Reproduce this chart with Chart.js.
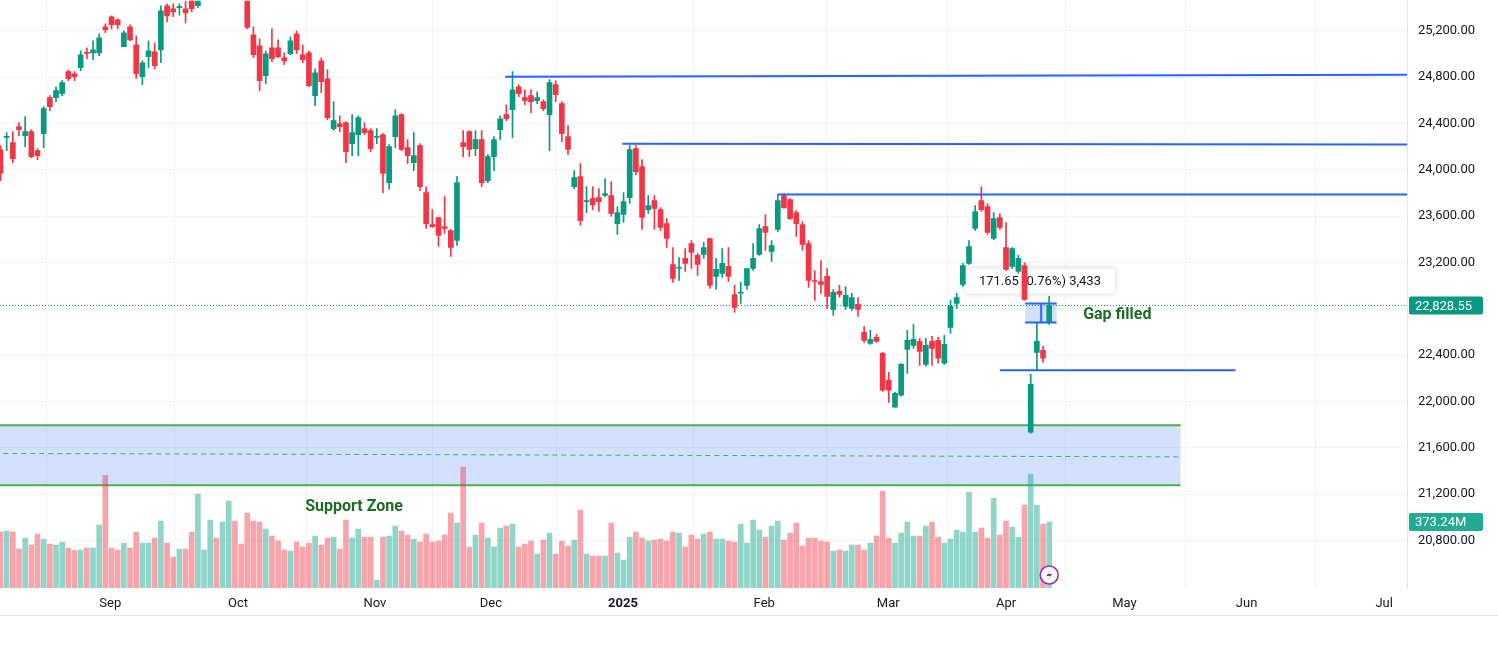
<!DOCTYPE html>
<html>
<head>
<meta charset="utf-8">
<script src="https://cdn.jsdelivr.net/npm/chart.js@4.4.1/dist/chart.umd.min.js"></script>
<style>
  html, body { margin: 0; padding: 0; background: #fff; overflow: hidden; }
  #wrap { position: relative; top: -18px; width: 1498px; height: 669px; }
</style>
</head>
<body>
<div id="wrap"><canvas id="priceChart"></canvas></div>
<script>
// Daily candles, Aug 2024 - Apr 2025 (index = trading day)
const opens = [24175,24280,24235,24373,24295,24330,24166,24312,24623,24623,24657,24847,24829,24881,25015,25010,25010,25234,25321,25295,
  25062,25234,25079,24804,24976,25019,25036,25416,25390,25400,25390,25480,25416,25600,25870,25970,25920,26005,26250,26060,
  25800,25166,25071,24812,25054,25054,24967,25002,25174,24993,25010,24640,24941,24786,24355,24398,24407,24226,24304,24355,
  24338,24280,24304,23890,24286,24476,24192,24062,24209,23803,23528,23588,23510,23476,23390,24235,24330,24183,24260,23907,
  24114,24347,24476,24519,24717,24623,24640,24597,24588,24476,24735,24571,24286,23855,23942,23725,23752,23760,23778,23778,
  23536,23614,23760,24183,24028,23657,23735,23657,23536,23183,23150,23235,23364,23261,23269,23407,23080,23105,23166,22924,
  22936,23002,23148,23269,23510,23295,23485,23778,23743,23631,23528,23364,23040,23036,23080,22795,22950,22821,22804,22838,
  22597,22502,22554,22416,22183,21950,22054,22450,22485,22519,22321,22519,22528,22330,22640,22847,23010,23192,23493,23735,
  23683,23407,23588,23329,23166,23123,23174,21735,22424,22442,22690];
const highs = [24209,24321,24330,24407,24459,24347,24183,24545,24640,24717,24770,24864,24847,25028,25054,25114,25174,25260,25330,25304,
  25200,25252,25157,24941,25114,25097,25416,25433,25433,25433,25459,25520,25650,25850,25980,26010,26030,26250,26277,26130,
  25820,25234,25131,25028,25217,25122,25010,25148,25200,25079,25028,24872,24967,24864,24588,24467,24416,24476,24467,24407,
  24355,24355,24312,24217,24519,24485,24260,24321,24226,23855,23657,23588,23769,23485,23942,24338,24338,24338,24338,24131,
  24286,24467,24562,24847,24735,24691,24691,24674,24605,24778,24769,24588,24381,23993,24054,23855,23855,23838,23924,23898,
  23683,23803,24209,24209,24088,23778,23778,23674,23579,23329,23243,23321,23390,23278,23373,23407,23235,23321,23329,23002,
  23028,23148,23364,23528,23614,23390,23786,23795,23752,23649,23554,23390,23131,23217,23148,22967,23002,22993,22933,22898,
  22649,22614,22580,22424,22252,22080,22330,22614,22666,22545,22545,22562,22554,22571,22873,22933,23192,23390,23692,23855,
  23709,23631,23623,23545,23329,23261,23200,22235,22683,22476,22907];
const lows = [23907,24166,24062,24295,24200,24105,24088,24192,24510,24588,24640,24769,24769,24855,24959,24950,24985,25183,25217,25217,
  25062,25114,24786,24735,24881,24872,24924,25278,25321,25338,25269,25364,25400,25550,25820,25880,25870,25980,26150,25790,
  25217,24967,24683,24743,24933,24967,24907,24993,25002,24924,24717,24554,24666,24433,24340,24330,24062,24123,24123,24304,
  24157,24226,23803,23830,24192,24166,24054,23993,23821,23493,23502,23338,23450,23252,23347,24114,24114,24123,23855,23890,
  23993,24260,24424,24278,24631,24562,24493,24571,24510,24166,24588,24243,24131,23838,23519,23631,23657,23640,23769,23597,
  23442,23545,23709,23959,23485,23623,23485,23476,23329,23028,23045,23123,23148,23088,23235,22976,22967,23071,23036,22769,
  22847,22967,23131,23261,23304,23209,23467,23666,23571,23424,23304,22985,22873,22933,22804,22743,22898,22795,22786,22735,
  22510,22493,22510,22088,21993,21950,22045,22243,22459,22312,22304,22312,22330,22321,22589,22804,22993,23183,23476,23640,
  23442,23398,23485,23131,23148,23105,22873,21726,22269,22338,22666];
const closes = [23968,24290,24097,24347,24330,24114,24123,24528,24545,24683,24752,24786,24804,24993,25005,25036,25140,25209,25252,25252,
  25183,25122,24829,24924,25028,24898,25372,25329,25364,25408,25355,25390,25600,25790,25939,25940,26004,26216,26178,25811,
  25230,24993,24769,25002,24959,24976,24941,25114,25036,24950,24726,24838,24760,24450,24424,24373,24157,24321,24450,24321,
  24183,24290,23968,24200,24467,24175,24123,24123,23855,23536,23510,23433,23493,23329,23890,24200,24175,24260,23890,24114,
  24260,24441,24441,24691,24657,24597,24588,24623,24528,24752,24649,24312,24175,23933,23562,23730,23700,23726,23795,23623,
  23631,23726,24175,23985,23588,23692,23666,23502,23407,23062,23155,23192,23286,23183,23329,23002,23140,23192,23080,22812,
  22942,23148,23235,23493,23459,23347,23735,23674,23579,23536,23355,23045,23036,23010,22907,22942,22924,22916,22898,22795,
  22528,22536,22519,22097,22097,22071,22321,22528,22536,22433,22485,22459,22373,22493,22821,22898,23174,23338,23640,23657,
  23459,23579,23502,23140,23321,23235,22881,22148,22519,22373,22828.55];
const volumes = [318,322,318,220,283,243,305,277,249,243,260,226,211,215,226,226,356,638,226,215,
  254,226,316,254,254,283,379,254,175,220,220,316,531,215,384,283,373,492,379,249,
  424,379,373,333,294,266,215,209,260,232,254,294,243,283,288,220,384,283,333,288,
  288,45,288,294,350,322,299,277,260,305,260,266,299,424,367,684,232,299,367,283,
  232,339,350,362,232,249,266,192,271,311,192,266,237,271,441,192,181,181,181,367,
  198,158,288,316,283,266,271,277,266,316,311,232,299,277,305,316,277,277,266,260,
  362,254,384,328,288,350,379,271,311,367,237,283,283,266,260,209,215,209,243,243,
  215,254,294,548,283,254,311,373,294,294,350,373,288,254,277,328,316,542,316,339,
  283,508,299,379,345,288,469,644,469,362,373.24];

// x axis: month starts (trading-day index)
const monthTicks = [17.8, 38.5, 60.7, 79.5, 100.9, 123.8, 143.9, 163, 182.2, 202, 224.3];
const monthLabels = ['Sep', 'Oct', 'Nov', 'Dec', '2025', 'Feb', 'Mar', 'Apr', 'May', 'Jun', 'Jul'];

// drawings: [startIndex, startPrice, endIndex, endPrice]
const resistanceLines = [
  [81.8, 24803, 228, 24821],
  [100.8, 24226, 228, 24218],
  [126, 23786, 228, 23786],
  [162, 22269, 200.2, 22269]
];
const supportZone = [-1, 191.3, 21278, 21795, 21537];   // x0, x1, low, high, mid
const gapBox = [166.1, 171.2, 22683, 22847, 168.7];      // x0, x1, low, high, arrow x
const lastPrice = 22828.55;
const lastVolume = 373.24;

const GREEN = '#089981';
const RED = '#f23645';
const FONT = 'Roboto, "Noto Sans", sans-serif';

function fmtPrice(v) {
    return v.toLocaleString('en-US', { minimumFractionDigits: 2, maximumFractionDigits: 2 });
}

const up = opens.map((o, i) => closes[i] >= o);

const drawingsPlugin = {
    id: 'drawings',
    beforeDatasetsDraw(chart) {
        const { ctx, chartArea, scales: { x, y } } = chart;
        ctx.save();
        ctx.beginPath();
        ctx.rect(chartArea.left, chartArea.top, chartArea.width, chartArea.height);
        ctx.clip();

        // last price dotted line
        ctx.strokeStyle = GREEN;
        ctx.lineWidth = 1;
        ctx.setLineDash([1, 2]);
        ctx.beginPath();
        ctx.moveTo(chartArea.left, y.getPixelForValue(lastPrice));
        ctx.lineTo(chartArea.right, y.getPixelForValue(lastPrice));
        ctx.stroke();
        ctx.setLineDash([]);

        // support zone
        const zx0 = x.getPixelForValue(supportZone[0]);
        const zx1 = x.getPixelForValue(supportZone[1]);
        const zLow = y.getPixelForValue(supportZone[2]);
        const zHigh = y.getPixelForValue(supportZone[3]);
        ctx.fillStyle = 'rgba(41, 98, 255, 0.2)';
        ctx.fillRect(zx0, zHigh, zx1 - zx0, zLow - zHigh);
        ctx.strokeStyle = '#4caf50';
        ctx.lineWidth = 2;
        ctx.beginPath();
        ctx.moveTo(zx0, zHigh); ctx.lineTo(zx1, zHigh);
        ctx.moveTo(zx0, zLow); ctx.lineTo(zx1, zLow);
        ctx.stroke();
        ctx.lineWidth = 1;
        ctx.setLineDash([5, 4]);
        ctx.beginPath();
        ctx.moveTo(zx0, y.getPixelForValue(supportZone[4] + 15));
        ctx.lineTo(zx1, y.getPixelForValue(supportZone[4] - 15));
        ctx.stroke();
        ctx.setLineDash([]);

        // measure label
        const lx = x.getPixelForValue(168.5);
        const ly = y.getPixelForValue(23045);
        ctx.shadowColor = 'rgba(0,0,0,0.18)';
        ctx.shadowBlur = 6;
        ctx.fillStyle = '#fff';
        ctx.beginPath();
        ctx.roundRect(lx - 75, ly - 12, 150, 25, 4);
        ctx.fill();
        ctx.shadowBlur = 0;
        ctx.fillStyle = '#131722';
        ctx.font = '13px ' + FONT;
        ctx.textAlign = 'center';
        ctx.textBaseline = 'middle';
        ctx.fillText('171.65 (0.76%) 3,433', lx, ly + 1);

        // gap box fill
        const gx0 = x.getPixelForValue(gapBox[0]);
        const gx1 = x.getPixelForValue(gapBox[1]);
        const gLow = y.getPixelForValue(gapBox[2]);
        const gHigh = y.getPixelForValue(gapBox[3]);
        ctx.fillStyle = 'rgba(41, 98, 255, 0.2)';
        ctx.fillRect(gx0, gHigh, gx1 - gx0, gLow - gHigh);
        ctx.restore();
    },
    afterDatasetsDraw(chart) {
        const { ctx, chartArea, scales: { x, y } } = chart;
        ctx.save();
        ctx.beginPath();
        ctx.rect(chartArea.left, chartArea.top, chartArea.width, chartArea.height);
        ctx.clip();

        ctx.strokeStyle = '#2962ff';
        ctx.lineWidth = 2;
        resistanceLines.forEach(l => {
            ctx.beginPath();
            ctx.moveTo(x.getPixelForValue(l[0]), y.getPixelForValue(l[1]));
            ctx.lineTo(x.getPixelForValue(l[2]), y.getPixelForValue(l[3]));
            ctx.stroke();
        });

        // gap box lines
        const gx0 = x.getPixelForValue(gapBox[0]);
        const gx1 = x.getPixelForValue(gapBox[1]);
        const gLow = y.getPixelForValue(gapBox[2]);
        const gHigh = y.getPixelForValue(gapBox[3]);
        const gm = x.getPixelForValue(gapBox[4]);
        ctx.beginPath();
        ctx.moveTo(gx0, gHigh); ctx.lineTo(gx1, gHigh);
        ctx.moveTo(gx0, gLow); ctx.lineTo(gx1, gLow);
        ctx.moveTo(gm, gLow); ctx.lineTo(gm, gHigh);
        ctx.stroke();

        ctx.fillStyle = '#1e6b24';
        ctx.font = 'bold 16px ' + FONT;
        ctx.textBaseline = 'middle';
        ctx.fillText('Gap filled', x.getPixelForValue(175.5), y.getPixelForValue(22745));
        ctx.fillText('Support Zone', x.getPixelForValue(49.4), chartArea.top + 506);
        ctx.restore();
    },
    afterDraw(chart) {
        const { ctx, chartArea, scales: { y, yv } } = chart;
        ctx.save();
        ctx.font = '13px ' + FONT;
        ctx.textBaseline = 'middle';
        ctx.textAlign = 'left';
        const tags = [
            [y.getPixelForValue(lastPrice), fmtPrice(lastPrice), GREEN],
            [yv.getPixelForValue(lastVolume), lastVolume.toFixed(2) + 'M', '#22ab94']
        ];
        tags.forEach(t => {
            ctx.fillStyle = t[2];
            ctx.beginPath();
            ctx.roundRect(chartArea.right + 2, t[0] - 9, 74, 18, 2);
            ctx.fill();
            ctx.fillStyle = '#fff';
            ctx.fillText(t[1], chartArea.right + 8, t[0] + 1);
        });

        // lightning badge
        const bx = chart.scales.x.getPixelForValue(170), by = chartArea.bottom - 13;
        ctx.strokeStyle = '#9c27b0';
        ctx.lineWidth = 1.5;
        ctx.fillStyle = '#fff';
        ctx.beginPath();
        ctx.arc(bx, by, 9, 0, Math.PI * 2);
        ctx.fill();
        ctx.stroke();
        ctx.beginPath();
        ctx.moveTo(bx + 2, by - 6); ctx.lineTo(bx - 3, by + 1); ctx.lineTo(bx + 1, by + 1);
        ctx.lineTo(bx - 2, by + 6); ctx.lineTo(bx + 3, by - 1); ctx.lineTo(bx - 1, by - 1);
        ctx.closePath();
        ctx.fillStyle = '#9c27b0';
        ctx.fill();

        // bottom separator
        ctx.strokeStyle = '#e0e3eb';
        ctx.lineWidth = 1;
        ctx.beginPath();
        ctx.moveTo(0, chartArea.bottom + 27.5); ctx.lineTo(1498, chartArea.bottom + 27.5);
        ctx.stroke();
        ctx.restore();
    }
};

const ctx = document.getElementById('priceChart').getContext('2d');
new Chart(ctx, {
    type: 'bar',
    data: {
        datasets: [
            {
                label: 'Volume',
                data: volumes.map((v, i) => ({ x: i, y: v })),
                yAxisID: 'yv',
                backgroundColor: up.map(u => u ? 'rgba(34, 171, 148, 0.5)' : 'rgba(242, 54, 69, 0.45)'),
                barThickness: 5,
                order: 3
            },
            {
                label: 'Wicks',
                data: lows.map((l, i) => ({ x: i, y: [l, highs[i]] })),
                yAxisID: 'y',
                backgroundColor: up.map(u => u ? GREEN : RED),
                barThickness: 1,
                order: 2
            },
            {
                label: 'Bodies',
                data: opens.map((o, i) => ({ x: i, y: [o, closes[i]] })),
                yAxisID: 'y',
                backgroundColor: up.map(u => u ? GREEN : RED),
                barThickness: 5,
                minBarLength: 1,
                order: 1
            }
        ]
    },
    options: {
        responsive: true,
        maintainAspectRatio: false,
        animation: false,
        datasets: { bar: { grouped: false } },
        layout: { padding: 0 },
        plugins: {
            legend: { display: false },
            tooltip: { enabled: false }
        },
        scales: {
            x: {
                type: 'linear',
                min: -0.08,
                max: 228,
                offset: false,
                afterBuildTicks: (scale) => {
                    scale.ticks = monthTicks.map(v => ({ value: v }));
                },
                afterFit: (scale) => { scale.height = 63; },
                grid: { color: '#f2f3f5', drawTicks: false },
                border: { display: false },
                ticks: {
                    padding: 8,
                    color: '#131722',
                    maxRotation: 0,
                    autoSkip: false,
                    font: (c) => ({
                        family: FONT,
                        size: 13,
                        weight: (c.tick && c.tick.value === 100.9) ? 'bold' : 'normal'
                    }),
                    callback: (value) => monthLabels[monthTicks.indexOf(value)] || ''
                }
            },
            y: {
                position: 'right',
                min: 20390,
                max: 25459,
                afterBuildTicks: (scale) => {
                    const t = [];
                    for (let v = 20800; v <= 25200; v += 400) t.push({ value: v });
                    scale.ticks = t;
                },
                afterFit: (scale) => { scale.width = 91; },
                grid: { color: '#f2f3f5', drawTicks: false },
                border: { display: true, color: '#e0e3eb' },
                ticks: {
                    padding: 11,
                    color: '#131722',
                    font: { family: FONT, size: 13 },
                    callback: (v) => fmtPrice(v)
                }
            },
            yv: {
                display: false,
                min: 0,
                max: 3322
            }
        }
    },
    plugins: [drawingsPlugin]
});
</script>
</body>
</html>
